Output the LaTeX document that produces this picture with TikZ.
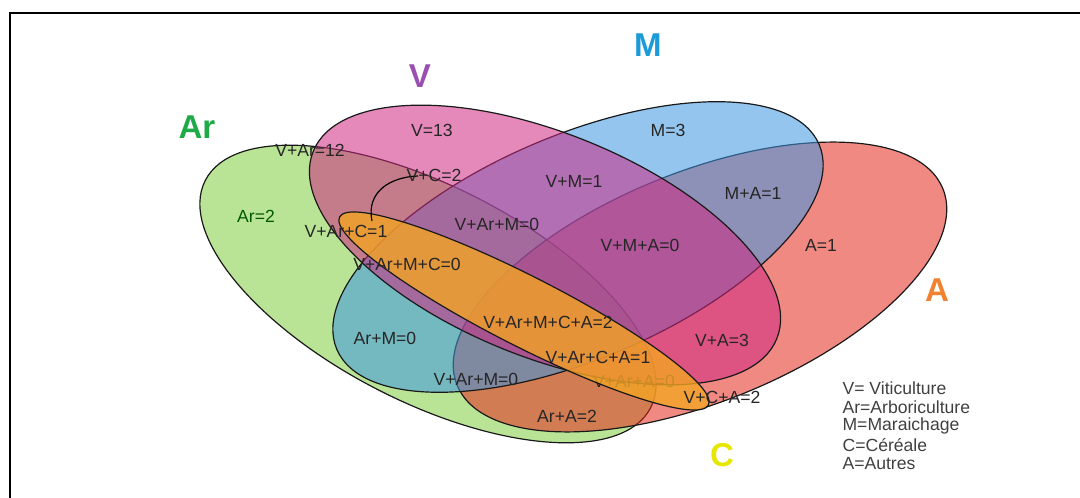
\documentclass[tikz,border=0pt]{standalone}
\usepackage{fontspec}
\setmainfont{Liberation Sans}
\definecolor{colAr}{RGB}{128,206,64}
\definecolor{colV}{RGB}{205,40,130}
\definecolor{colM}{RGB}{60,150,225}
\definecolor{colA}{RGB}{230,40,30}
\definecolor{colC}{RGB}{243,164,36}
\definecolor{txtAr}{RGB}{31,170,72}
\definecolor{txtV}{RGB}{154,80,176}
\definecolor{txtM}{RGB}{27,155,215}
\definecolor{txtA}{RGB}{240,130,50}
\definecolor{txtC}{RGB}{230,230,0}

\begin{document}
\begin{tikzpicture}[x=0.025cm,y=-0.025cm,line width=0.85pt,
  set/.style={draw=black!90,fill opacity=0.55},
  lab/.style={font=\fontsize{12.5}{14}\selectfont,text=black!85,inner sep=0pt},
  big/.style={font=\fontsize{23.5}{26}\selectfont\bfseries,inner sep=0pt}]
  \useasboundingbox (0,0) rectangle (1080,498);
  % ensembles
  \draw[set,fill=colAr,rotate around={-27:(428,294)}] (428,294) ellipse [x radius=250,y radius=108];
  \draw[set,fill=colA,rotate around={22:(700,287)}] (700,287) ellipse [x radius=262,y radius=115];
  \draw[set,fill=colM,rotate around={23:(578,247)}] (578,247) ellipse [x radius=262,y radius=112];
  \draw[set,fill=colV,rotate around={-22:(545,245)}] (545,245) ellipse [x radius=250,y radius=112];
  \node[lab] (lVArA) at (634,381) {V+Ar+A=0};
  \draw[draw=black!90,fill=colC,fill opacity=0.8,rotate around={-27:(524,311)}] (524,311) ellipse [x radius=207,y radius=35];
  \draw (372,221) .. controls (366,192) and (390,177) .. (418,176);
  % effectifs
  \node[lab] (lV) at (432,130) {V=13};
  \node[lab] (lVAr) at (310,150) {V+Ar=12};
  \node[lab] (lVC) at (434,175) {V+C=2};
  \node[lab,text=green!35!black] (lAr) at (256,216) {Ar=2};
  \node[lab] (lVArC) at (346,231) {V+Ar+C=1};
  \node[lab] (lVArM) at (497,224) {V+Ar+M=0};
  \node[lab] (lVM) at (574,181) {V+M=1};
  \node[lab] (lM) at (668,130) {M=3};
  \node[lab] (lMA) at (753,193) {M+A=1};
  \node[lab] (lVMA) at (640,245) {V+M+A=0};
  \node[lab] (lA) at (821,245) {A=1};
  \node[lab] (lVArMC) at (407,264) {V+Ar+M+C=0};
  \node[lab] (lArM) at (385,338) {Ar+M=0};
  \node[lab] (lVArMCA) at (548,322) {V+Ar+M+C+A=2};
  \node[lab] (lVArCA) at (598,357) {V+Ar+C+A=1};
  \node[lab] (lVA) at (722,340) {V+A=3};
  \node[lab] (lVArMb) at (476,379) {V+Ar+M=0};
  \node[lab] (lVCA) at (722,397) {V+C+A=2};
  \node[lab] (lArA) at (567,416) {Ar+A=2};
  % noms des ensembles
  \node[big,text=txtAr] (nAr) at (197,127) {Ar};
  \node[big,text=txtV] (nV) at (420,76) {V};
  \node[big,text=txtM] (nM) at (648,45) {M};
  \node[big,text=txtA] (nA) at (937,290) {A};
  \node[big,text=txtC] (nC) at (722,455) {C};
  % legende
  \foreach \t [count=\i] in {V= Viticulture,Ar=Arboriculture,M=Maraichage,C=Céréale,A=Autres}
    \node[lab,text=black!75,anchor=west] (leg\i) at (842,369+19*\i) {\t};
  % cadre
  \draw[line width=1.5pt] (10,498) -- (10,13) -- (1080,13);
\end{tikzpicture}
\end{document}
